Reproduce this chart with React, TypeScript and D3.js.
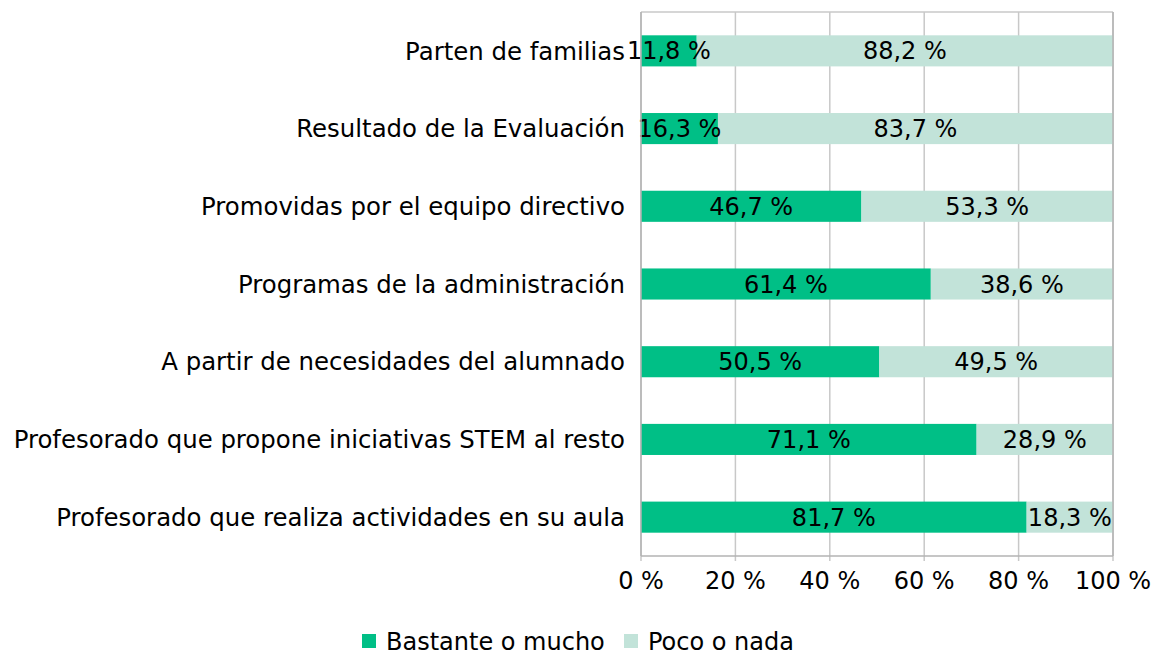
import React from 'react'
import * as d3 from 'd3'

const categories = [
  'Parten de familias',
  'Resultado de la Evaluación',
  'Promovidas por el equipo directivo',
  'Programas de la administración',
  'A partir de necesidades del alumnado',
  'Profesorado que propone iniciativas STEM al resto',
  'Profesorado que realiza actividades en su aula',
]
const bastante = [11.8, 16.3, 46.7, 61.4, 50.5, 71.1, 81.7]
const poco = [88.2, 83.7, 53.3, 38.6, 49.5, 28.9, 18.3]
const seriesNames = ['Bastante o mucho', 'Poco o nada']
const xTicks = [0, 20, 40, 60, 80, 100]

const colors = ['#00bf86', '#c2e3d9']
const font = 'DejaVu Sans, sans-serif'
const fs = 24

const fmt = (v: number) => v.toFixed(1).replace('.', ',') + ' %'

const App = () => {
  const width = 1155
  const height = 655
  const left = 641
  const right = 1113
  const top = 12
  const bottom = 556

  const x = d3.scaleLinear().domain([0, 100]).range([left, right])
  const y = d3.scaleBand<string>().domain(categories).range([top, bottom]).paddingInner(0.6).paddingOuter(0.3)

  const rows = categories.map((c, i) => ({ c, a: bastante[i], b: poco[i] }))

  return (
    <svg width={width} height={height} style={{ position: 'absolute', left: 0, top: 0 }} fontFamily={font}>
      <rect width={width} height={height} fill="#fff" />
      {xTicks.map((t) => (
        <line key={t} x1={x(t)} x2={x(t)} y1={top} y2={bottom + 5} stroke="#c8c8c8" strokeWidth={1.5} />
      ))}
      <line x1={left} x2={right} y1={top} y2={top} stroke="#c8c8c8" strokeWidth={1.5} />
      {rows.map((r) => {
        const yy = y(r.c)!
        const bh = y.bandwidth()
        const cy = yy + bh / 2
        return (
          <g key={r.c}>
            <rect x={x(0)} y={yy} width={x(r.a) - x(0)} height={bh} fill={colors[0]} />
            <rect x={x(r.a)} y={yy} width={x(r.a + r.b) - x(r.a)} height={bh} fill={colors[1]} />
            <text x={(x(0) + x(r.a)) / 2} y={cy} dy="0.36em" textAnchor="middle" fontSize={fs} fill="#000">
              {fmt(r.a)}
            </text>
            <text x={(x(r.a) + x(r.a + r.b)) / 2} y={cy} dy="0.36em" textAnchor="middle" fontSize={fs} fill="#000">
              {fmt(r.b)}
            </text>
            <text x={left - 16} y={cy} dy="0.36em" textAnchor="end" fontSize={24.4} fill="#000">
              {r.c}
            </text>
          </g>
        )
      })}
      <line x1={left} x2={left} y1={top} y2={bottom} stroke="#b3b3b3" strokeWidth={1.5} />
      <line x1={right} x2={right} y1={top} y2={bottom} stroke="#b3b3b3" strokeWidth={1.5} />
      <line x1={left} x2={right} y1={bottom} y2={bottom} stroke="#b3b3b3" strokeWidth={1.5} />
      {xTicks.map((t) => (
        <text key={t} x={x(t)} y={580} dy="0.36em" textAnchor="middle" fontSize={fs} fill="#000">
          {t + ' %'}
        </text>
      ))}
      <g>
        <rect x={362} y={634} width={14} height={14} fill={colors[0]} />
        <text x={386} y={641} dy="0.36em" fontSize={fs} fill="#000">{seriesNames[0]}</text>
        <rect x={624} y={634} width={14} height={14} fill={colors[1]} />
        <text x={648} y={641} dy="0.36em" fontSize={fs} fill="#000">{seriesNames[1]}</text>
      </g>
    </svg>
  )
}

export default App
